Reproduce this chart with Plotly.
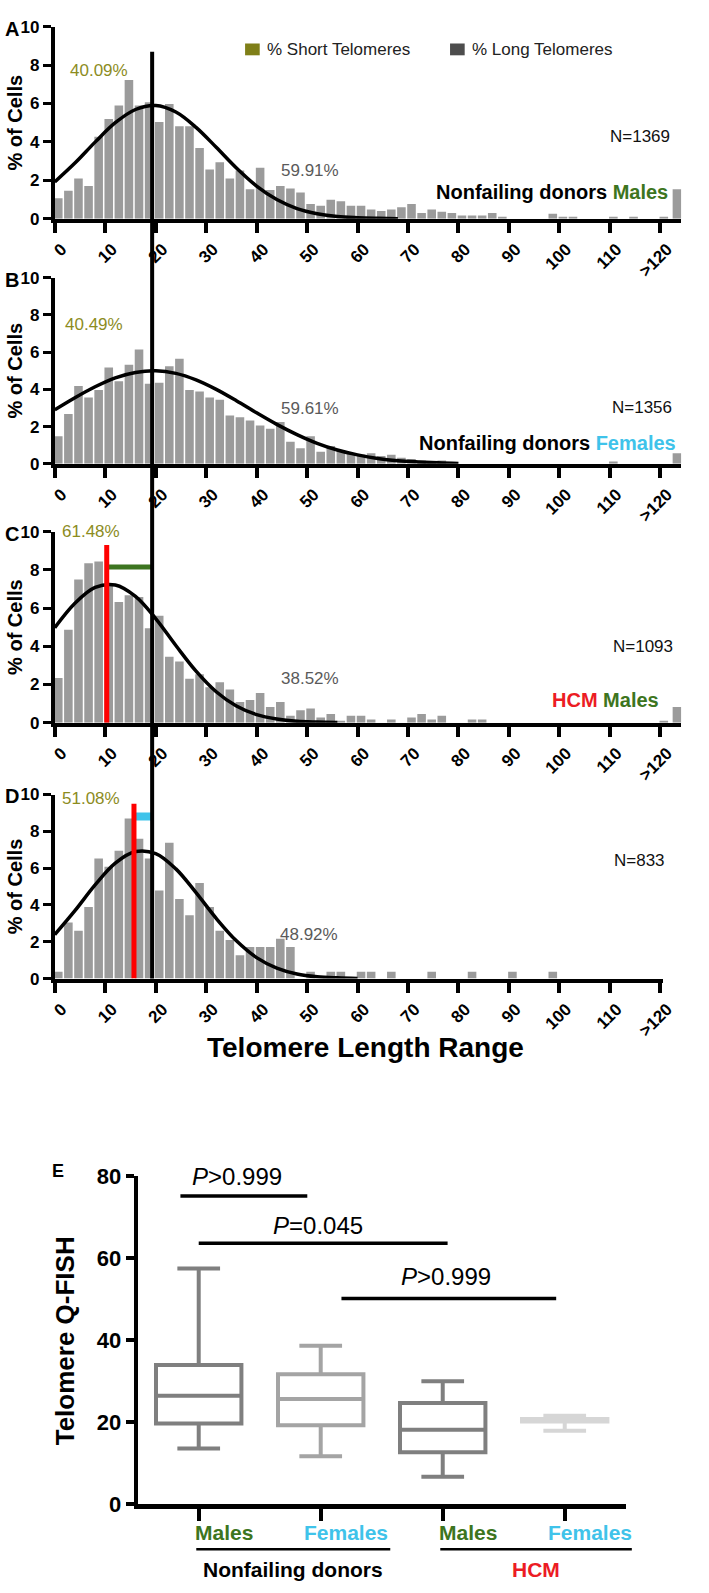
import plotly.graph_objects as go

W, H = 709, 1593
FONT = "Liberation Sans, Arial, Helvetica, sans-serif"
BAR = "#9b9b9b"
GREEN = "#3d7520"
BLUE = "#3fc3ea"
RED = "#ec1c24"
OLIVE = "#8c8c1e"

# ---- histogram data: % of cells per 2-unit telomere length bin (lower edge) ----
bin_starts = list(range(0, 121, 2))
over_120_pos = 123.3
x_tickvals = list(range(0, 121, 10))
x_ticktext = [str(v) for v in range(0, 120, 10)] + [">120"]

nf_males = [1.07, 1.45, 2.1, 1.7, 4.27, 5.2, 5.9, 7.23, 5.9, 6.07,
            5.04, 5.98, 4.82, 4.82, 3.68, 2.56, 2.94, 2.09, 2.51, 1.54,
            2.65, 1.5, 1.7, 1.57, 1.37, 0.77, 0.68, 0.99, 0.91, 0.68,
            0.68, 0.48, 0.4, 0.48, 0.6, 0.77, 0.3, 0.48, 0.36, 0.3,
            0.17, 0.17, 0.17, 0.3, 0.1, 0, 0, 0, 0, 0.26,
            0.1, 0.05, 0, 0, 0, 0.1, 0, 0.05, 0, 0,
            0.1]
nf_males_over = 1.54

nf_females = [1.48, 2.68, 4.18, 3.56, 3.97, 5.18, 4.44, 5.33, 6.15, 4.3,
              4.35, 5.24, 5.64, 3.97, 3.88, 3.56, 3.44, 2.6, 2.5, 2.33,
              2.06, 1.89, 2.24, 1.18, 0.83, 1.48, 0.65, 0.95, 0.74, 0.57,
              0.5, 0.57, 0.42, 0.48, 0.33, 0.26, 0.18, 0.12, 0.18, 0,
              0, 0, 0, 0, 0, 0, 0, 0, 0, 0,
              0, 0, 0, 0, 0, 0.12, 0, 0, 0, 0,
              0]
nf_females_over = 0.57

hcm_males = [2.34, 4.86, 7.5, 8.35, 8.44, 7.2, 6.32, 6.67, 6.58, 4.95,
             5.6, 3.45, 3.2, 2.3, 2.54, 1.86, 2.11, 1.74, 1.08, 1.19,
             1.56, 0.82, 1.08, 0.36, 0.65, 0.74, 0.27, 0.45, 0.09, 0.36,
             0.36, 0.17, 0, 0.17, 0, 0.27, 0.45, 0.17, 0.36, 0,
             0, 0.17, 0.17, 0, 0, 0, 0, 0, 0, 0,
             0, 0, 0, 0, 0, 0, 0, 0, 0, 0,
             0.1]
hcm_males_over = 0.82

hcm_females = [0.37, 3.05, 2.6, 3.89, 6.52, 6.07, 6.95, 8.7, 7.6, 6.52,
               4.78, 7.38, 4.33, 3.44, 5.19, 3.89, 2.6, 2.1, 1.27, 1.71,
               1.71, 1.71, 2.16, 1.71, 0, 0.37, 0, 0.37, 0.37, 0,
               0.37, 0.37, 0, 0.37, 0, 0, 0, 0.37, 0, 0,
               0, 0.37, 0, 0, 0, 0.37, 0, 0, 0, 0.37,
               0, 0, 0, 0, 0, 0, 0, 0, 0, 0,
               0]
hcm_females_over = 0

# fitted gaussian curves
curve_x_a = [0, 4, 8, 12, 16, 20, 24, 28, 32, 36, 40, 44, 48, 52, 56, 60, 64, 68]
curve_a = [1.92, 2.90, 3.99, 5.00, 5.69, 5.90, 5.56, 4.76, 3.72, 2.64, 1.70, 1.00,
           0.53, 0.26, 0.11, 0.05, 0.02, 0.0]
curve_x_b = [0, 4, 8, 12, 16, 20, 24, 28, 32, 36, 40, 44, 48, 52, 56, 60, 64, 68, 72, 76, 80]
curve_b = [2.90, 3.55, 4.14, 4.62, 4.91, 5.00, 4.86, 4.51, 4.00, 3.39, 2.74, 2.12,
           1.57, 1.10, 0.74, 0.48, 0.29, 0.17, 0.10, 0.05, 0.02]
curve_x_c = [0, 4, 8, 12, 16, 20, 24, 28, 32, 36, 40, 44, 48, 52, 56]
curve_c = [4.97, 6.25, 7.08, 7.21, 6.61, 5.45, 4.04, 2.70, 1.62, 0.87, 0.42, 0.19,
           0.07, 0.03, 0.01]
curve_x_d = [0, 4, 8, 12, 16, 20, 24, 28, 32, 36, 40, 44, 48, 52, 56, 60]
curve_d = [2.39, 3.69, 5.09, 6.27, 6.90, 6.79, 5.96, 4.67, 3.27, 2.05, 1.14, 0.57,
           0.25, 0.10, 0.04, 0.01]

short_long_cutoff = 19.3
hcm_mean_length = [None, None, 10.3, 15.7]
hcm_mean_top = [None, None, 9.3, 9.5]
shift_bar_y = [None, None, 8.15, 8.8]
shift_bar_color = [None, None, GREEN, BLUE]
shift_bar_width = [None, None, 5, 8]

pct_short = ["40.09%", "40.49%", "61.48%", "51.08%"]
pct_long = ["59.91%", "59.61%", "38.52%", "48.92%"]
n_cells = ["N=1369", "N=1356", "N=1093", "N=833"]
group_label = [
    f"Nonfailing donors <span style='color:{GREEN}'>Males</span>",
    f"Nonfailing donors <span style='color:{BLUE}'>Females</span>",
    f"<span style='color:{RED}'>HCM</span> <span style='color:{GREEN}'>Males</span>",
    f"<span style='color:{RED}'>HCM</span> <span style='color:{BLUE}'>Females</span>",
]
legend_names = ["% Short Telomeres", "% Long Telomeres"]
legend_colors = ["#7f7f18", "#4d4d4d"]
# label positions (x, y in data units)
pct_short_pos = [(8.7, 7.7), (7.7, 7.5), (7.2, 10.0), (7.25, 9.8)]
pct_long_pos = [(50.5, 2.5), (50.6, 2.95), (50.6, 2.3), (50.3, 2.4)]
n_pos = [(115.9, 4.3), (116.3, 3.0), (116.6, 4.0), (115.8, 6.4)]
group_pos = [(122.0, 1.4), (123.6, 1.1), (120.1, 1.2), (122.8, 1.6)]

# ---- box plot data (telomere Q-FISH) ----
box_q1 = [19.7, 19.3, 12.7, 20.2]
box_median = [26.5, 25.7, 18.2, 20.5]
box_q3 = [34.0, 31.7, 24.7, 20.8]
box_low = [13.6, 11.7, 6.7, 17.9]
box_high = [57.5, 38.7, 30.0, 21.6]
box_colors = ["#7f7f7f", "#a4a4a4", "#7f7f7f", "#d6d6d6"]
cat_labels = ["Males", "Females", "Males", "Females"]
cat_colors = [GREEN, BLUE, GREEN, BLUE]
sig_x0 = [-0.15, 0.0, 1.17]
sig_x1 = [0.89, 2.04, 2.93]
sig_y = [75.2, 63.7, 50.2]
sig_text = ["<i>P</i>>0.999", "<i>P</i>=0.045", "<i>P</i>>0.999"]
sig_text_pos = [(0.31, 80.0), (0.98, 68.0), (2.03, 55.5)]
cohorts = ["Nonfailing donors", "HCM"]
cohort_colors = ["black", RED]
cohort_span = [(-0.02, 1.57), (1.98, 3.55)]


def xdom(l, r):
    return [l / W, r / W]


def ydom(top, bottom):
    return [1 - bottom / H, 1 - top / H]


def paper_text(px, py, text, size, bold=True, angle=0, color="black", xanchor="center"):
    return dict(x=px / W, y=1 - py / H, xref="paper", yref="paper", text=text,
                textangle=angle, showarrow=False, xanchor=xanchor, yanchor="middle",
                font=dict(family=FONT, size=size, color=color,
                          weight="bold" if bold else "normal"))


PX_PER_UNIT = 5.17
AX_LEFT = 52
hist_rows = [(15, 210), (270, 459), (528, 722), (795, 982)]
hist_right = [694, 694, 694, 675]
hist_vals = [nf_males, nf_females, hcm_males, hcm_females]
hist_over = [nf_males_over, nf_females_over, hcm_males_over, hcm_females_over]
curves = [(curve_x_a, curve_a), (curve_x_b, curve_b), (curve_x_c, curve_c), (curve_x_d, curve_d)]
letters = ["A", "B", "C", "D"]

fig = go.Figure()
annotations = []
shapes = []
layout = {}

for i in range(4):
    xa, ya = f"x{i + 1}" if i else "x", f"y{i + 1}" if i else "y"
    top, bottom = hist_rows[i]
    xmax = (hist_right[i] - AX_LEFT) / PX_PER_UNIT
    fig.add_trace(go.Bar(x=bin_starts, y=hist_vals[i], width=1.7, offset=-0.15,
                         marker=dict(color=BAR, line_width=0), xaxis=xa, yaxis=ya,
                         showlegend=False))
    if hist_over[i]:
        fig.add_trace(go.Bar(x=[over_120_pos], y=[hist_over[i]], width=1.7, offset=-0.85,
                             marker=dict(color=BAR, line_width=0), xaxis=xa, yaxis=ya,
                             showlegend=False))
    cx, cy = curves[i]
    fig.add_trace(go.Scatter(x=cx, y=cy, mode="lines", xaxis=xa, yaxis=ya,
                             line=dict(color="black", width=3.5, shape="spline"),
                             showlegend=False))
    if hcm_mean_length[i] is not None:
        fig.add_trace(go.Scatter(x=[hcm_mean_length[i], short_long_cutoff],
                                 y=[shift_bar_y[i], shift_bar_y[i]], mode="lines",
                                 line=dict(color=shift_bar_color[i], width=shift_bar_width[i]),
                                 xaxis=xa, yaxis=ya, showlegend=False))
        fig.add_trace(go.Scatter(x=[hcm_mean_length[i], hcm_mean_length[i]],
                                 y=[0, hcm_mean_top[i]], mode="lines",
                                 line=dict(color="#ff0000", width=5),
                                 xaxis=xa, yaxis=ya, showlegend=False))

    key = "" if i == 0 else str(i + 1)
    layout["xaxis" + key] = dict(
        domain=xdom(AX_LEFT, hist_right[i]), range=[0, xmax], anchor=ya,
        tickvals=x_tickvals, ticktext=x_ticktext, tickangle=-45, ticklabelshift=7,
        ticks="outside", ticklen=10, tickwidth=4, tickcolor="black",
        showline=True, linewidth=4, linecolor="black", showgrid=False, zeroline=False,
        tickfont=dict(size=17, color="black", weight="bold"),
    )
    layout["yaxis" + key] = dict(
        domain=ydom(top, bottom), range=[0, 10], anchor=xa,
        tickvals=[0, 2, 4, 6, 8, 10], ticks="outside", ticklen=8, tickwidth=3,
        tickcolor="black", showline=True, linewidth=4, linecolor="black",
        showgrid=False, zeroline=False,
        tickfont=dict(size=17, color="black", weight="bold"),
    )

    def txt(x, y, text, color, size, bold=False, anchor="center"):
        annotations.append(dict(x=x, y=y, xref=xa, yref=ya, text=text, showarrow=False,
                                xanchor=anchor, yanchor="middle",
                                font=dict(family=FONT, size=size, color=color,
                                          weight="bold" if bold else "normal")))

    txt(*pct_short_pos[i], pct_short[i], OLIVE, 17)
    txt(*pct_long_pos[i], pct_long[i], "#5a5a5a", 17)
    txt(*n_pos[i], n_cells[i], "#111111", 17)
    txt(*group_pos[i], group_label[i], "black", 20, bold=True, anchor="right")

    annotations.append(paper_text(11, (top + bottom) / 2, "% of Cells", 20, angle=-90))
    annotations.append(paper_text(8, top + 2, letters[i], 20))

# long vertical cut-off line crossing panels A-D
xmax_a = (hist_right[0] - AX_LEFT) / PX_PER_UNIT
shapes.append(dict(type="line", xref="x domain", yref="paper",
                   x0=short_long_cutoff / xmax_a, x1=short_long_cutoff / xmax_a,
                   y0=1 - hist_rows[3][1] / H,
                   y1=1 - (hist_rows[0][1] - 8.7 / 10 * (hist_rows[0][1] - hist_rows[0][0])) / H,
                   line=dict(color="black", width=4)))

# legend (drawn by hand so it does not push the margins)
for name, col, lx in zip(legend_names, legend_colors, [247, 457]):
    shapes.append(dict(type="rect", xref="paper", yref="paper",
                       x0=lx / W, x1=(lx + 15) / W, y0=1 - 44 / H, y1=1 - 32 / H,
                       fillcolor=col, line_width=0))
    annotations.append(paper_text(lx + 20, 38, name, 17, bold=False, color="#222222",
                                  xanchor="left"))

annotations.append(paper_text(370, 1052, "Telomere Length Range", 28))

# ---- panel E ----
E_RANGE = 80
for i in range(4):
    fig.add_trace(go.Box(x=[i], q1=[box_q1[i]], median=[box_median[i]], q3=[box_q3[i]],
                         lowerfence=[box_low[i]], upperfence=[box_high[i]],
                         width=0.7, whiskerwidth=0.5, fillcolor="rgba(0,0,0,0)",
                         line=dict(color=box_colors[i], width=4), boxpoints=False,
                         xaxis="x5", yaxis="y5", showlegend=False, hoverinfo="skip"))
    annotations.append(dict(x=i + 0.21, y=-7 / E_RANGE, xref="x5", yref="y5 domain",
                            text=cat_labels[i], showarrow=False,
                            xanchor="center", yanchor="middle",
                            font=dict(family=FONT, size=21, color=cat_colors[i], weight="bold")))

for x0, x1, y in zip(sig_x0, sig_x1, sig_y):
    fig.add_trace(go.Scatter(x=[x0, x1], y=[y, y], mode="lines",
                             line=dict(color="black", width=3.5),
                             xaxis="x5", yaxis="y5", showlegend=False))
for (tx, ty), t in zip(sig_text_pos, sig_text):
    annotations.append(dict(x=tx, y=ty / E_RANGE, xref="x5", yref="y5 domain", text=t,
                            showarrow=False, xanchor="center", yanchor="middle",
                            font=dict(family=FONT, size=24, color="black")))

for name, col, (s0, s1) in zip(cohorts, cohort_colors, cohort_span):
    shapes.append(dict(type="line", xref="x5 domain", yref="y5 domain",
                       x0=(s0 + 0.5) / 4, x1=(s1 + 0.5) / 4,
                       y0=-11 / E_RANGE, y1=-11 / E_RANGE,
                       line=dict(color="black", width=2.5)))
    annotations.append(dict(x=(s0 + s1) / 2, y=-16 / E_RANGE, xref="x5", yref="y5 domain",
                            text=name, showarrow=False, xanchor="center", yanchor="middle",
                            font=dict(family=FONT, size=21, color=col, weight="bold")))

layout["xaxis5"] = dict(domain=xdom(137, 637), range=[-0.5, 3.5], anchor="y5",
                        tickvals=[0, 1, 2, 3], showticklabels=False, ticks="outside",
                        ticklen=12, tickwidth=4, tickcolor="black", showline=True,
                        linewidth=5, linecolor="black", showgrid=False, zeroline=False)
layout["yaxis5"] = dict(domain=ydom(1183, 1516), range=[0, E_RANGE], anchor="x5",
                        tickvals=[0, 20, 40, 60, 80], ticks="outside", ticklen=8,
                        tickwidth=4, tickcolor="black", showline=True, linewidth=4,
                        linecolor="black", showgrid=False, zeroline=False,
                        tickfont=dict(size=22, color="black", weight="bold"))
annotations.append(paper_text(62, 1350, "Telomere Q-FISH", 26, angle=-90))
annotations.append(paper_text(55, 1177, "E", 18))

fig.update_layout(
    width=W, height=H, autosize=False,
    margin=dict(l=0, r=0, t=0, b=0),
    paper_bgcolor="white", plot_bgcolor="white",
    font=dict(family=FONT, color="black"),
    barmode="overlay", showlegend=False,
    annotations=annotations, shapes=shapes,
    **layout,
)

fig.write_html("out.html", config={"displayModeBar": False},
               post_script="document.body.style.margin='0';")
